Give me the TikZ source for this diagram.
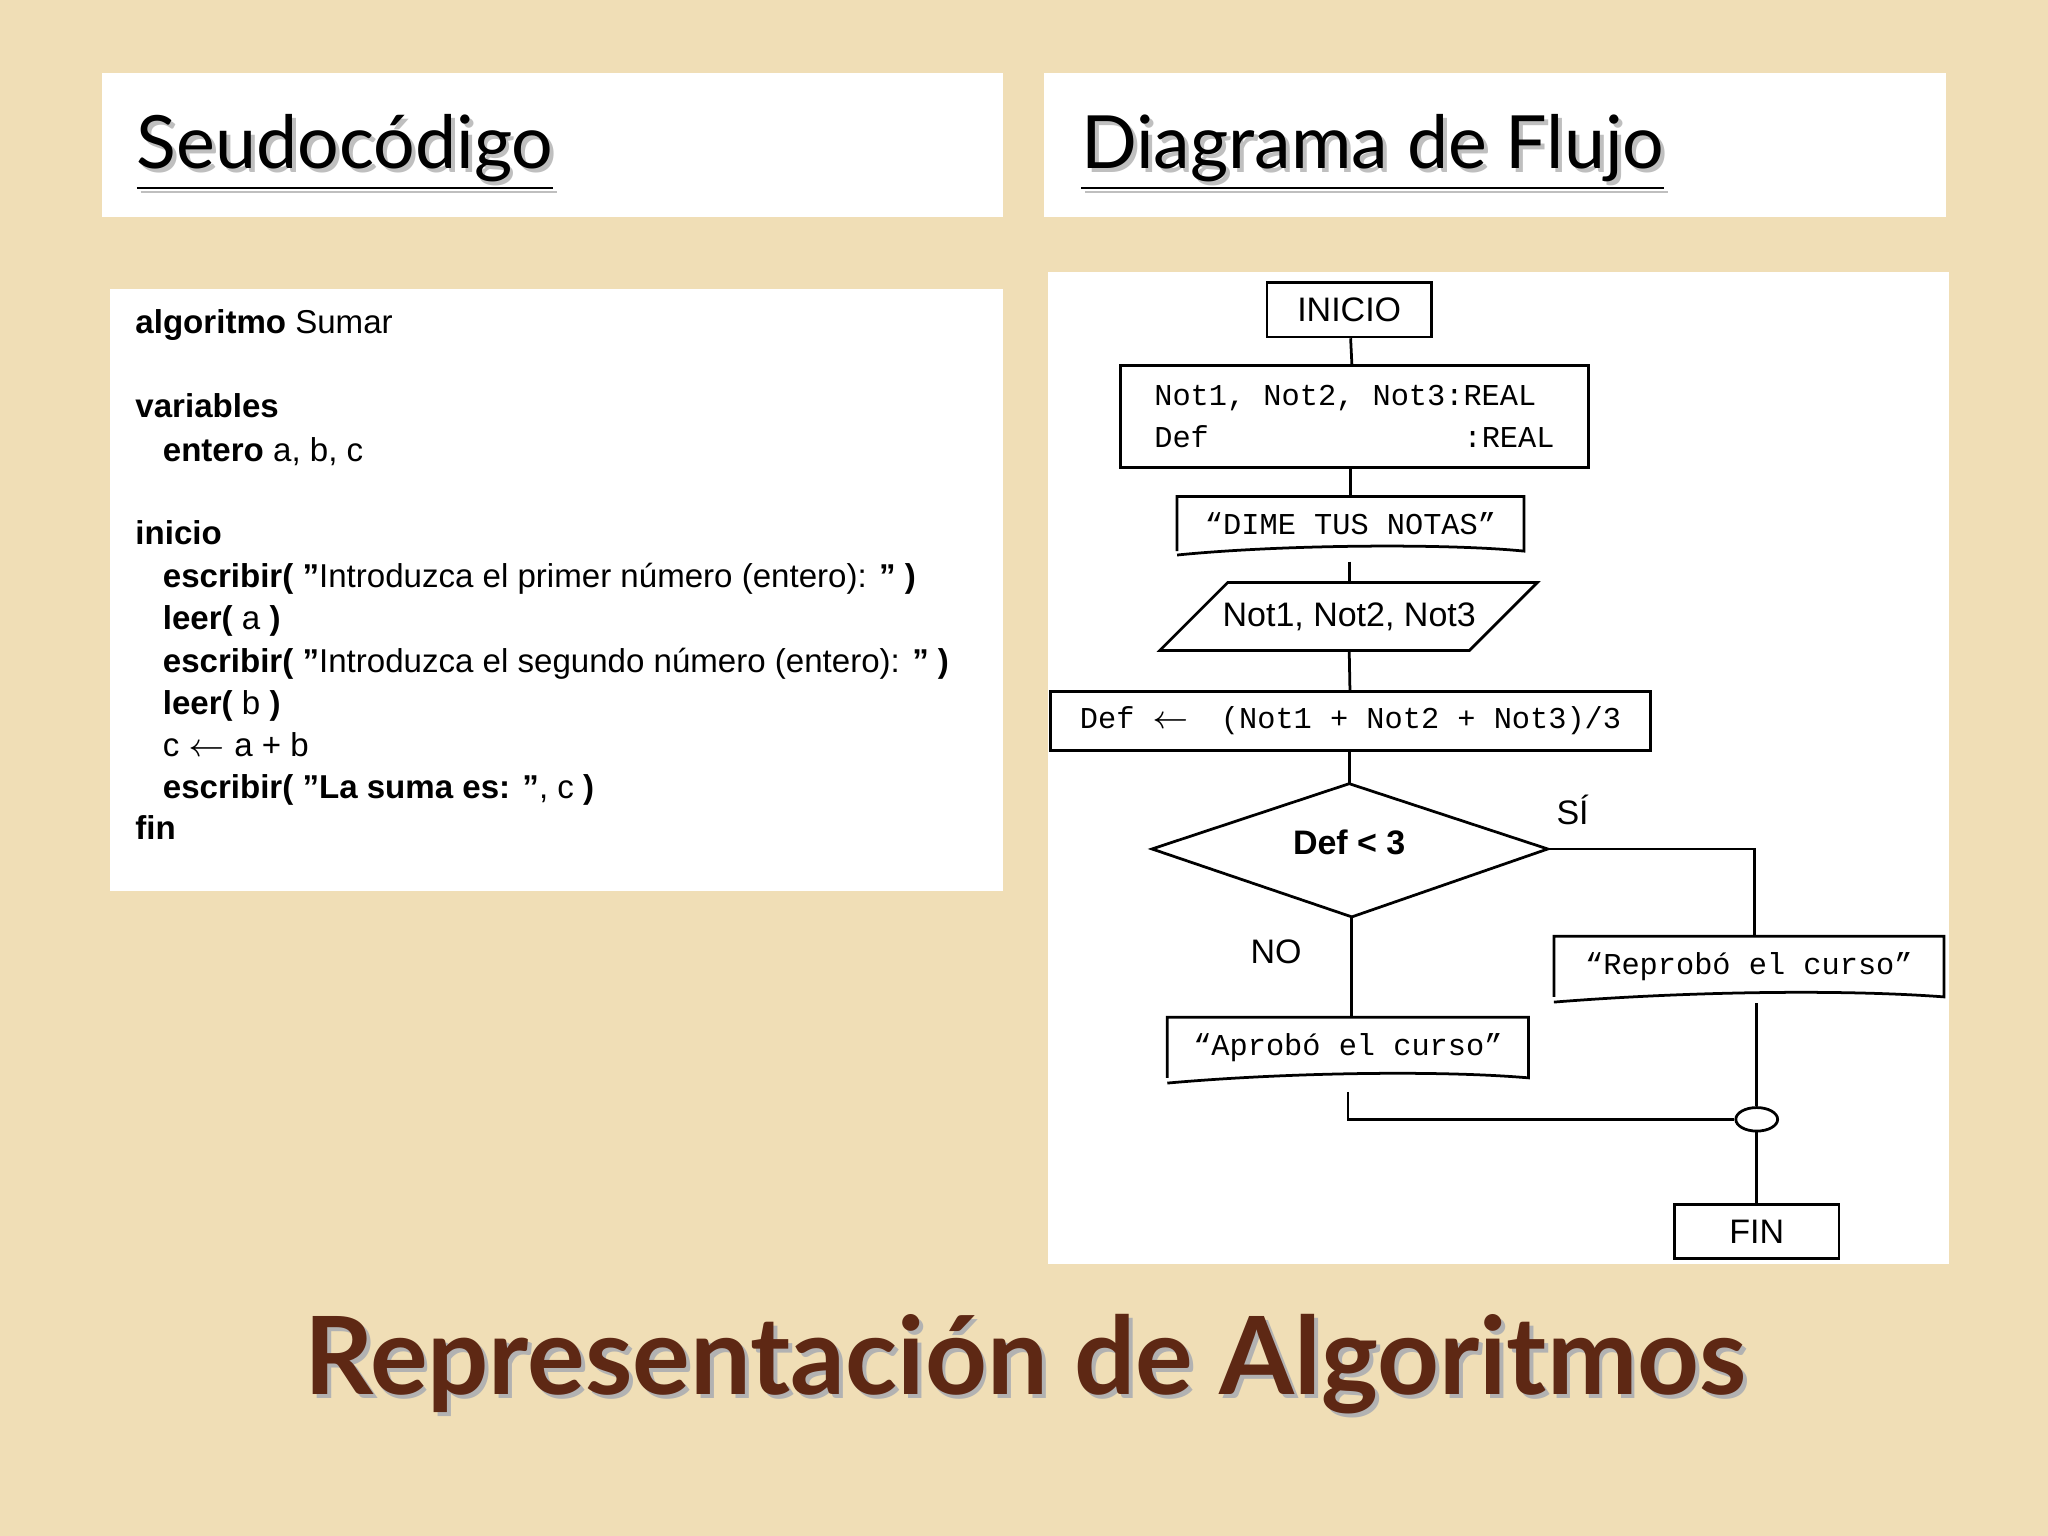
\documentclass[tikz,border=0pt]{standalone}
\usepackage{fontspec}
\setmainfont{Liberation Sans}
\newfontfamily\titlefont{Lato}
\newfontfamily\monof{Liberation Mono}
\usetikzlibrary{shapes.geometric}
\definecolor{bg}{RGB}{240,222,182}
\definecolor{brown}{RGB}{94,40,20}
\newcommand{\dq}{\symbol{34}}
\begin{document}
\begin{tikzpicture}[x=0.01cm,y=-0.01cm,
  fl/.style={line width=0.6pt},
  code/.style={anchor=base west,inner sep=0,font=\fontsize{7.2}{9}\selectfont},
  mono/.style={font=\monof\fontsize{6.6}{9}\selectfont},
  sans/.style={font=\fontsize{7.4}{9}\selectfont}]
\fill[bg] (0,0) rectangle (1568,1176);
\useasboundingbox (0,0) rectangle (1568,1176);
\fill[white] (78,56) rectangle (768,166);
\fill[white] (799,56) rectangle (1490,166);
\fill[white] (84,221) rectangle (768,682);
\fill[white] (802,208) rectangle (1492,968);
\node[anchor=base west,inner sep=0,text=gray!50,font=\titlefont\fontsize{16}{20}\selectfont] at (107,132) {\underline{Seudocódigo}};
\node[anchor=base west,inner sep=0,font=\titlefont\fontsize{16}{20}\selectfont] (t1) at (104,129) {\underline{Seudocódigo}};
\node[anchor=base west,inner sep=0,text=gray!50,font=\titlefont\fontsize{16}{20}\selectfont] at (830,132) {\underline{Diagrama de Flujo}};
\node[anchor=base west,inner sep=0,font=\titlefont\fontsize{16}{20}\selectfont] (t2) at (827,129) {\underline{Diagrama de Flujo}};
\node[text=gray!60,font=\titlefont\bfseries\fontsize{23.5}{28}\selectfont,anchor=base] at (788,1071) {Representación de Algoritmos};
\node[text=brown,font=\titlefont\bfseries\fontsize{23.5}{28}\selectfont,anchor=base] (t3) at (785,1068) {Representación de Algoritmos};
% code
\node[code] (c1) at (103,255) {\textbf{algoritmo} Sumar};
\node[code] (c2) at (103,320) {\textbf{variables}};
\node[code] (c3) at (124,353) {\textbf{entero} a, b, c};
\node[code] (c4) at (103,417) {\textbf{inicio}};
\node[code] (c5) at (124,450) {\textbf{escribir( \dq}Introduzca el primer número (entero): \textbf{\dq\ )}};
\node[code] (c6) at (124,482) {\textbf{leer(} a \textbf{)}};
\node[code] (c7) at (124,515) {\textbf{escribir( \dq}Introduzca el segundo número (entero): \textbf{\dq\ )}};
\node[code] (c8) at (124,547) {\textbf{leer(} b \textbf{)}};
\node[code] (c9) at (124,579) {c $\leftarrow$ a + b};
\node[code] (c10) at (124,611) {\textbf{escribir( \dq La suma es: \dq}, c \textbf{)}};
\node[code] (c11) at (103,643) {\textbf{fin}};
% flowchart
\node[fl,draw,sans,minimum width=1.26cm,minimum height=0.36cm] (ini) at (1033,237) {INICIO};
\node[fl,draw,mono,minimum width=3.58cm,minimum height=0.78cm,align=left] (decl) at (1037,319) {Not1, Not2, Not3:REAL\\Def{\ }{\ }{\ }{\ }{\ }{\ }{\ }{\ }{\ }{\ }{\ }{\ }{\ }{\ }:REAL};
\node[mono,minimum width=2.64cm,minimum height=0.34cm] (dime) at (1034,401) {“DIME TUS NOTAS”};
\draw[fl] (dime.south west) -- (dime.north west) -- (dime.north east) -- (dime.south east) .. controls +(-60,-6) and +(80,-8) .. ([yshift=-0.03cm]dime.south west);
\node[sans,minimum width=2.37cm,minimum height=0.52cm] (rd) at (1033,472) {Not1, Not2, Not3};
\draw[fl] (940,446) coordinate (p1) -- (1177,446) -- (1125,498) -- (888,498) -- cycle;
\node[fl,draw,mono,minimum width=4.59cm,minimum height=0.44cm] (asg) at (1034,552) {Def $\leftarrow$\;\, (Not1 + Not2 + Not3)/3};
\node[sans,font=\bfseries\fontsize{7.4}{9}\selectfont] (dec) at (1033,645) {Def < 3};
\coordinate (dt) at (1033,600); \coordinate (db) at (1035,702);
\coordinate (dl) at (882,650); \coordinate (dr) at (1185,650);
\draw[fl] (dt) -- (dr) -- (db) -- (dl) -- cycle;
\node[sans] (si) at (1204,620) {SÍ};
\node[sans] (no) at (977,729) {NO};
\node[mono,minimum width=2.97cm,minimum height=0.40cm] (rep) at (1339,740) {“Reprobó el curso”};
\draw[fl] (rep.south west) -- (rep.north west) -- (rep.north east) -- (rep.south east) .. controls +(-80,-6) and +(100,-8) .. ([yshift=-0.04cm]rep.south west);
\node[mono,minimum width=2.75cm,minimum height=0.40cm] (apr) at (1032,802) {“Aprobó el curso”};
\draw[fl] (apr.south west) -- (apr.north west) -- (apr.north east) -- (apr.south east) .. controls +(-70,-6) and +(90,-8) .. ([yshift=-0.04cm]apr.south west);
\node[fl,draw,ellipse,minimum width=0.32cm,minimum height=0.18cm,inner sep=0] (circ) at (1345,857) {};
\node[fl,draw,sans,minimum width=1.26cm,minimum height=0.34cm] (fin) at (1345,943) {FIN};
\draw[fl] (ini) -- (decl);
\draw[fl] (decl.south -| dime) -- (dime);
\draw[fl] (1033,430) -- (1033,446);
\draw[fl] (1033,498) -- (asg);
\draw[fl] (1033,574) -- (dt);
\draw[fl] (dr) -| (rep.north -| 1343,0);
\draw[fl] (db) -- (apr.north -| db);
\draw[fl] (1345,768) -- (circ.north);
\draw[fl] (1032,836) |- (circ.west);
\draw[fl] (circ.south) -- (fin.north);
\end{tikzpicture}
\end{document}
